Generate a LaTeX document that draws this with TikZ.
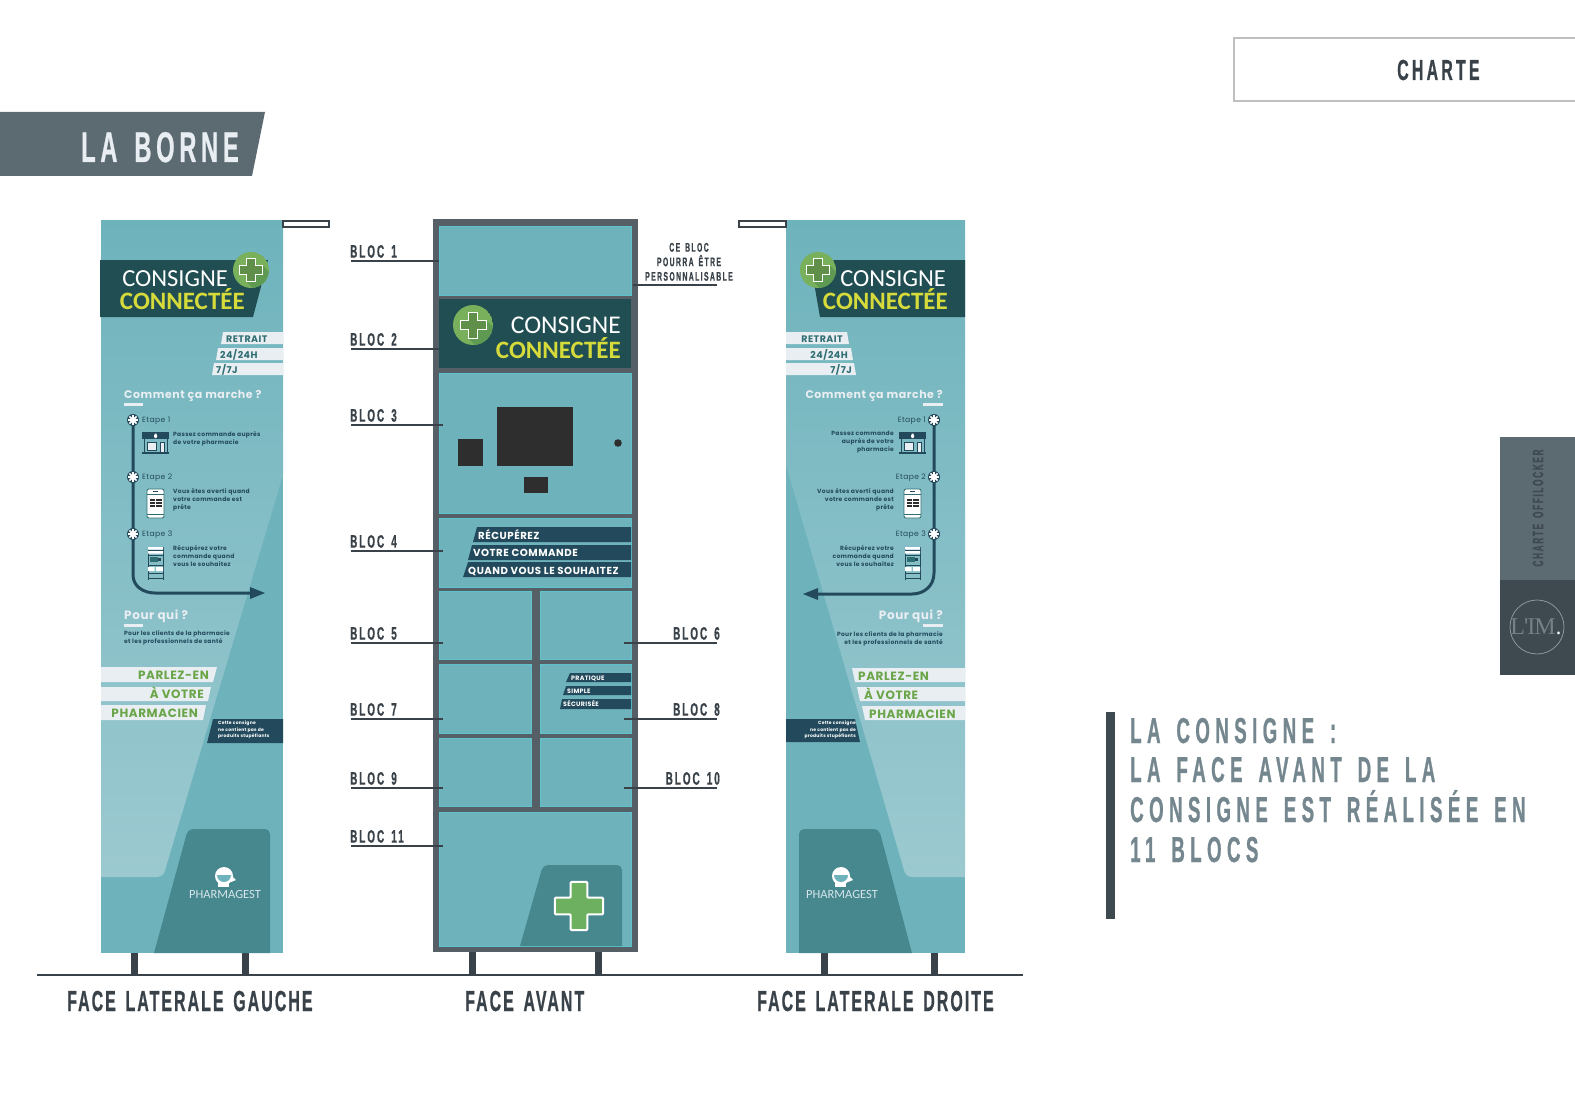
\documentclass[tikz,border=0pt]{standalone}
\usepackage{fontspec}
\newfontfamily\bebas[FakeStretch=0.55,LetterSpace=11,WordSpace=1.5,BoldFeatures={FakeBold=0.6}]{Liberation Sans}
\newfontfamily\bebastight[FakeStretch=0.55,LetterSpace=7,WordSpace=1.5,BoldFeatures={FakeBold=0.6}]{Liberation Sans}
\newfontfamily\bebaswide[FakeStretch=0.52,LetterSpace=15,WordSpace=1.5,BoldFeatures={FakeBold=0.6}]{Liberation Sans}
\newfontfamily\gothamish[LetterSpace=5]{Poppins}
\newfontfamily\logofont{Carlito}
\newfontfamily\limfont[LetterSpace=-4]{Liberation Serif}
\definecolor{panelteal}{HTML}{6EB3BC}
\definecolor{panellight}{HTML}{9CC9D0}
\definecolor{tileteal}{HTML}{47888F}
\definecolor{blocedge}{HTML}{5CC2CB}
\definecolor{framegrey}{HTML}{565F66}
\definecolor{inkdark}{HTML}{3A4249}
\definecolor{deepgreen}{HTML}{204E52}
\definecolor{navystrip}{HTML}{234A5C}
\definecolor{paleband}{HTML}{E8EEF1}
\definecolor{bandink}{HTML}{2F6E73}
\definecolor{greenink}{HTML}{6BA54A}
\definecolor{logogreen}{HTML}{78B05C}
\definecolor{logoshade}{HTML}{5E9A52}
\definecolor{plusfill}{HTML}{5F8F48}
\definecolor{crossgreen}{HTML}{6DB05F}
\definecolor{logoyellow}{HTML}{D6DB3B}
\definecolor{slate}{HTML}{5C6A72}
\definecolor{slatedark}{HTML}{3E4A50}
\definecolor{headline}{HTML}{74878F}
\definecolor{screenblack}{HTML}{2E2E2E}
\newcommand{\plusshape}{(-4.5,-13)--(4.5,-13)--(4.5,-4.5)--(13,-4.5)--(13,4.5)--(4.5,4.5)--(4.5,13)--(-4.5,13)--(-4.5,4.5)--(-13,4.5)--(-13,-4.5)--(-4.5,-4.5)--cycle}
\tikzset{
	bloc/.style={fill=panelteal,draw=blocedge,line width=.5pt},
	leader/.style={draw=inkdark,line width=1.5pt},
	bloclabel/.style={inner sep=0pt,text=inkdark,font=\bebas\bfseries\fontsize{18}{18}\selectfont},
	caption/.style={inner sep=0pt,text=inkdark,font=\bebastight\bfseries\fontsize{29}{29}\selectfont},
	headtext/.style={inner sep=0pt,anchor=base west,text=headline,font=\bebaswide\bfseries\fontsize{36}{36}\selectfont},
	logoa/.style={inner sep=0pt,anchor=base east,text=white,font=\logofont\fontsize{24.5}{24.5}\selectfont},
	logob/.style={inner sep=0pt,anchor=base east,text=logoyellow,font=\logofont\bfseries\fontsize{25}{25}\selectfont},
	stripetext/.style={inner sep=0pt,anchor=base west,text=white,font=\gothamish\bfseries\fontsize{10.2}{10.2}\selectfont},
	stripesmall/.style={inner sep=0pt,anchor=base west,text=white,font=\gothamish\bfseries\fontsize{6.3}{6.3}\selectfont},
	bandtext/.style={inner sep=0pt,text=bandink,font=\gothamish\bfseries\fontsize{9.5}{9.5}\selectfont},
	greentext/.style={inner sep=0pt,text=greenink,font=\gothamish\bfseries\fontsize{12}{12}\selectfont},
	titletext/.style={inner sep=0pt,text=paleband,font=\gothamish\bfseries\fontsize{11}{11}\selectfont},
	tinytext/.style={inner sep=0pt,text=navystrip,font=\gothamish\bfseries\fontsize{6}{8}\selectfont},
	steptext/.style={inner sep=0pt,text=navystrip,font=\gothamish\fontsize{7.6}{8}\selectfont},
	notetext/.style={inner sep=0pt,text=white,font=\gothamish\bfseries\fontsize{4.5}{6.5}\selectfont},
	route/.style={draw=navystrip,line width=3pt},
	pharmatext/.style={inner sep=0pt,text=paleband!85!panelteal,font=\logofont\fontsize{12.5}{12.5}\selectfont},
	logomark/.pic={
		\begin{scope}
			\clip (0,0) circle (20);
			\fill[logogreen] (0,0) circle (20);
			\fill[logoshade] (13,-5)--(33,15)--(15,33)--(-5,13)--cycle;
		\end{scope}
		\draw[white,fill=plusfill,line width=1pt] \plusshape;
	},
	stepmark/.pic={
		\fill[navystrip] (0,0) circle (6);
		\foreach \a in {0,45,...,315}
			\draw[white,line width=1.5pt] (0,0)--(\a:5);
		\fill[white] (0,0) circle (3);
	},
	shopicon/.pic={
		\fill[navystrip] (0,0) rectangle (27,7);
		\fill[white] (12,3) rectangle (15,5) (12.5,1.5) rectangle (14.5,6);
		\draw[navystrip,line width=.9pt] (2,7)--(2,20) (25,7)--(25,20);
		\draw[navystrip,line width=.9pt,fill=paleband] (5,10) rectangle (14,18);
		\draw[navystrip,line width=.9pt,fill=paleband] (18,10) rectangle (22,20);
		\fill[navystrip] (0,20) rectangle (27,22);
	},
	phoneicon/.pic={
		\draw[bandink,fill=white,line width=.8pt,rounded corners=2pt] (0,0) rectangle (17,29);
		\fill[navystrip] (6,2) rectangle (11,3.4);
		\foreach \r in {10,13,16}{
			\fill[screenblack] (2.5,\r) rectangle (8,\r+2);
			\fill[screenblack] (9,\r) rectangle (14.5,\r+2);
		}
		\draw[bandink,line width=.5pt] (0,5)--(17,5) (0,25)--(17,25);
	},
	lockericon/.pic={
		\draw[navystrip,line width=.9pt] (0,0)--(0,33) (15,0)--(15,33);
		\fill[white] (0,0) rectangle (15,2.5) (0,4) rectangle (15,6.5) (0,20) rectangle (6.5,24) (8,20) rectangle (15,24);
		\fill[navystrip] (0,2.5) rectangle (15,3.5);
		\fill[bandink] (2,10) rectangle (10,15);
		\fill[navystrip] (10,11) rectangle (13,14);
		\draw[navystrip,line width=.8pt] (0,8)--(15,8) (0,18)--(15,18) (0,26)--(15,26) (0,31)--(15,31);
	}
}
\begin{document}
\begin{tikzpicture}[x=1pt,y=-1pt,>=latex]
	\useasboundingbox (0,0) rectangle (1575,1113);
	\fill[white] (0,0) rectangle (1575,1113);

	% page furniture
	\fill[slate] (0,112)--(265,112)--(252,176)--(0,176)--cycle;
	\node[anchor=base west,inner sep=0pt,text=paleband,font=\bebas\bfseries\fontsize{43}{43}\selectfont] (sectitle) at (81,162) {LA BORNE};
	\draw[draw=black!25,line width=1.5pt] (1575,38)--(1234,38)--(1234,101)--(1575,101);
	\node[anchor=base west,inner sep=0pt,text=inkdark,font=\bebas\bfseries\fontsize{29}{29}\selectfont] (chartebox) at (1397,80) {CHARTE};
	\fill[slate] (1500,437) rectangle (1575,580);
	\fill[slatedark] (1500,580) rectangle (1575,675);
	\node[rotate=90,inner sep=0pt,text=slatedark,font=\bebas\bfseries\fontsize{15}{15}\selectfont] (tabtext) at (1538,508) {CHARTE OFFILOCKER};
	\draw[draw=slate!70!white,line width=.8pt] (1537,627) circle (27);
	\node[inner sep=0pt,text=slate!85!white,font=\limfont\fontsize{24}{24}\selectfont] (limtext) at (1536,627) {L'IM\textcolor{paleband}{.}};

	\fill[slatedark] (1106,712) rectangle (1115,919);
	\node[headtext] (headone) at (1130,743) {LA CONSIGNE :};
	\node[headtext] (headtwo) at (1130,782) {LA FACE AVANT DE LA};
	\node[headtext] (headthree) at (1130,822) {CONSIGNE EST RÉALISÉE EN};
	\node[headtext] (headfour) at (1130,862) {11 BLOCS};

	% ground and legs
	\foreach \lx in {134,245,472,598,824,934}
		\fill[inkdark] (\lx-3.5,945)rectangle(\lx+3.5,975);
	\draw[draw=inkdark,line width=2pt] (37,975)--(1023,975);
	\node[caption,anchor=base west] (capleft) at (67,1011) {FACE LATERALE GAUCHE};
	\node[caption,anchor=base west] (capfront) at (465,1011) {FACE AVANT};
	\node[caption,anchor=base west] (capright) at (757,1011) {FACE LATERALE DROITE};

	% left side
	\fill[panelteal] (101,220) rectangle (283,953);
	\shade[top color=panelteal,bottom color=panellight] (101,220)--(283,220)--(283,475) [rounded corners=6pt] --(163,877) [sharp corners] --(101,877)--cycle;
	\fill[tileteal] (154,953) [rounded corners=5pt] --(188,829)--(270,829) [sharp corners] --(270,953)--cycle;
	\draw[draw=inkdark,line width=1.5pt,fill=white] (283,221) rectangle (329,227);
	\fill[deepgreen] (100,260)--(268,260)--(253,317)--(100,317)--cycle;
	\pic[scale=.9] at (251,270) {logomark};
	\node[logoa] (lconsigne) at (228,286) {CONSIGNE};
	\node[logob] (lconnect) at (245,309) {CONNECTÉE};
	\fill[paleband] (223,332)--(283,332)--(283,344)--(221,344)--cycle;
	\fill[paleband] (218,348)--(283,348)--(283,360)--(216,360)--cycle;
	\fill[paleband] (214,363)--(283,363)--(283,375)--(212,375)--cycle;
	\node[bandtext,anchor=base west] (lretrait) at (226,342) {RETRAIT};
	\node[bandtext,anchor=base west] (lhours) at (220,358) {24/24H};
	\node[bandtext,anchor=base west] (ldays) at (216,373) {7/7J};
	\node[titletext,anchor=base west] (lcomment) at (124,398) {Comment ça marche ?};
	\fill[paleband] (124,403) rectangle (143,406);
	\coordinate (lstepa) at (133,420);
	\coordinate (lstepb) at (133,477);
	\coordinate (lstepc) at (133,534);
	\coordinate (lbend) at (155,593);
	\coordinate (ltip) at (258,593);
	\draw[route] (lstepa)--(lstepb)--(lstepc)--(133,575) .. controls (133,586) and (143,593) .. (lbend)--(ltip);
	\fill[navystrip] (250,587)--(265,593)--(250,599)--cycle;
	\pic at (lstepa) {stepmark};
	\pic at (lstepb) {stepmark};
	\pic at (lstepc) {stepmark};
	\node[steptext,anchor=west] (letapea) at (142,421) {Etape 1};
	\node[steptext,anchor=west] (letapeb) at (142,478) {Etape 2};
	\node[steptext,anchor=west] (letapec) at (142,535) {Etape 3};
	\pic at (142,432) {shopicon};
	\pic at (147,489) {phoneicon};
	\pic at (148,547) {lockericon};
	\node[tinytext,anchor=north west,align=left] (ltexta) at (173,431) {Passez commande auprès\\de votre pharmacie};
	\node[tinytext,anchor=north west,align=left] (ltextb) at (173,488) {Vous êtes averti quand\\votre commande est\\prête};
	\node[tinytext,anchor=north west,align=left] (ltextc) at (173,545) {Récupérez votre\\commande quand\\vous le souhaitez};
	\node[titletext,anchor=base west,font=\gothamish\bfseries\fontsize{12}{12}\selectfont] (lpour) at (124,619) {Pour qui ?};
	\fill[paleband] (124,624) rectangle (143,627);
	\node[tinytext,anchor=north west,align=left] (lclients) at (124,630) {Pour les clients de la pharmacie\\et les professionnels de santé};
	\fill[paleband] (101,667)--(217,667)--(213,682)--(101,682)--cycle;
	\fill[paleband] (101,687)--(211,687)--(208,701)--(101,701)--cycle;
	\fill[paleband] (101,705)--(206,705)--(203,720)--(101,720)--cycle;
	\node[greentext,anchor=base east] (lparlez) at (209,679) {PARLEZ-EN};
	\node[greentext,anchor=base east] (lvotre) at (204,698) {À VOTRE};
	\node[greentext,anchor=base east] (lpharma) at (198,717) {PHARMACIEN};
	\fill[navystrip] (213,719)--(283,719)--(283,743)--(207,743)--cycle;
	\node[notetext,anchor=north west,align=left] (lnote) at (218,721) {Cette consigne\\ne contient pas de\\produits stupéfiants};
	\fill[white] (224,876) circle (9);
	\fill[white] (218,880) rectangle (229,887);
	\fill[white] (231,875)--(236,880)--(231,882)--cycle;
	\fill[panelteal] (217,875) arc[start angle=180,end angle=0,radius=7]--cycle;
	\node[pharmatext] (lpharmagest) at (225,894) {PHARMAGEST};

	% front
	\fill[framegrey] (433,219) rectangle (638,952);
	\path[bloc] (439,226) rectangle (631,295);
	\fill[deepgreen] (439,299) rectangle (631,368);
	\path[bloc] (439,373) rectangle (631,513);
	\path[bloc] (439,518) rectangle (631,587);
	\path[bloc] (439,591) rectangle (531,659);
	\path[bloc] (540,591) rectangle (631,659);
	\path[bloc] (439,664) rectangle (531,733);
	\path[bloc] (540,664) rectangle (631,733);
	\path[bloc] (439,738) rectangle (531,806);
	\path[bloc] (540,738) rectangle (631,806);
	\path[bloc] (439,812) rectangle (631,946);
	\pic at (473,325) {logomark};
	\node[logoa,font=\logofont\fontsize{25.5}{25.5}\selectfont] (fconsigne) at (621,333) {CONSIGNE};
	\node[logob] (fconnect) at (621,358) {CONNECTÉE};
	\fill[screenblack] (497,407) rectangle (573,466);
	\fill[screenblack] (458,439) rectangle (483,466);
	\fill[screenblack] (524,477) rectangle (548,493);
	\fill[screenblack] (618,443) circle (3.8);
	\fill[navystrip] (477,527)--(631,527)--(631,542)--(473,542)--cycle;
	\fill[navystrip] (472,545)--(631,545)--(631,560)--(468,560)--cycle;
	\fill[navystrip] (468,562)--(631,562)--(631,577)--(463,577)--cycle;
	\node[stripetext] (frecup) at (478,539) {RÉCUPÉREZ};
	\node[stripetext] (fvotre) at (473,556) {VOTRE COMMANDE};
	\node[stripetext] (fquand) at (468,574) {QUAND VOUS LE SOUHAITEZ};
	\fill[navystrip] (570,673)--(631,673)--(631,682)--(566,682)--cycle;
	\fill[navystrip] (566,686)--(631,686)--(631,695)--(563,695)--cycle;
	\fill[navystrip] (562,699)--(631,699)--(631,709)--(560,709)--cycle;
	\node[stripesmall] (fprat) at (571,680) {PRATIQUE};
	\node[stripesmall] (fsimp) at (567,693) {SIMPLE};
	\node[stripesmall] (fsecu) at (563,706) {SÉCURISÉE};
	\fill[tileteal] (520,946) [rounded corners=5pt] --(543,865)--(622,865) [sharp corners] --(622,946)--cycle;
	\draw[white,fill=crossgreen,line width=2pt,rounded corners=1pt,shift={(579,906)},scale=1.85] \plusshape;

	% labels on the left of the front
	\foreach \nm/\txt/\ly/\ex in {1/BLOC 1/261/439,2/BLOC 2/349/439,3/BLOC 3/425/443,4/BLOC 4/551/443,5/BLOC 5/643/443,7/BLOC 7/719/443,9/BLOC 9/788/443,11/BLOC 11/846/443}{
		\node[bloclabel,anchor=south west] (lab\nm) at (350,\ly-3) {\txt};
		\coordinate (end\nm) at (\ex,\ly);
		\coordinate (start\nm) at (351,\ly);
		\draw[leader] (start\nm)--(end\nm);
	}
	% labels on the right of the front
	\foreach \nm/\txt/\ly in {6/BLOC 6/643,8/BLOC 8/719,10/BLOC 10/788}{
		\node[bloclabel,anchor=south east] (lab\nm) at (720,\ly-3) {\txt};
		\coordinate (end\nm) at (624,\ly);
		\coordinate (start\nm) at (717,\ly);
		\draw[leader] (start\nm)--(end\nm);
	}
	\node[bloclabel,anchor=south,align=center,font=\bebas\bfseries\fontsize{12.5}{14.5}\selectfont] (labperso) at (689,281) {CE BLOC\\POURRA ÊTRE\\PERSONNALISABLE};
	\coordinate (startperso) at (717,285);
	\coordinate (endperso) at (633,285);
	\draw[leader] (startperso)--(endperso);

	% right side
	\fill[panelteal] (786,220) rectangle (965,953);
	\shade[top color=panelteal,bottom color=panellight] (965,220)--(786,220)--(786,465) [rounded corners=6pt] --(906,877) [sharp corners] --(965,877)--cycle;
	\fill[tileteal] (912,953) [rounded corners=5pt] --(879,829)--(799,829) [sharp corners] --(799,953)--cycle;
	\draw[draw=inkdark,line width=1.5pt,fill=white] (739,221) rectangle (786,227);
	\fill[deepgreen] (810,260)--(965,260)--(965,317)--(820,317)--cycle;
	\pic[scale=.9] at (818,270) {logomark};
	\node[logoa] (rconsigne) at (946,286) {CONSIGNE};
	\node[logob] (rconnect) at (948,309) {CONNECTÉE};
	\fill[paleband] (786,332)--(847,332)--(849,344)--(786,344)--cycle;
	\fill[paleband] (786,348)--(851,348)--(853,360)--(786,360)--cycle;
	\fill[paleband] (786,363)--(854,363)--(856,375)--(786,375)--cycle;
	\node[bandtext,anchor=base east] (rretrait) at (843,342) {RETRAIT};
	\node[bandtext,anchor=base east] (rhours) at (848,358) {24/24H};
	\node[bandtext,anchor=base east] (rdays) at (852,373) {7/7J};
	\node[titletext,anchor=base east] (rcomment) at (943,398) {Comment ça marche ?};
	\fill[paleband] (923,403) rectangle (943,406);
	\coordinate (rstepa) at (934,420);
	\coordinate (rstepb) at (934,477);
	\coordinate (rstepc) at (934,534);
	\coordinate (rbend) at (912,594);
	\coordinate (rtip) at (810,594);
	\draw[route] (rstepa)--(rstepb)--(rstepc)--(934,573) .. controls (934,586) and (924,594) .. (rbend)--(rtip);
	\fill[navystrip] (818,588)--(803,594)--(818,600)--cycle;
	\pic at (rstepa) {stepmark};
	\pic at (rstepb) {stepmark};
	\pic at (rstepc) {stepmark};
	\node[steptext,anchor=east] (retapea) at (926,421) {Etape 1};
	\node[steptext,anchor=east] (retapeb) at (926,478) {Etape 2};
	\node[steptext,anchor=east] (retapec) at (926,535) {Etape 3};
	\pic at (899,432) {shopicon};
	\pic at (904,489) {phoneicon};
	\pic at (905,547) {lockericon};
	\node[tinytext,anchor=north east,align=right] (rtexta) at (894,431) {Passez commande\\auprès de votre\\pharmacie};
	\node[tinytext,anchor=north east,align=right] (rtextb) at (894,488) {Vous êtes averti quand\\votre commande est\\prête};
	\node[tinytext,anchor=north east,align=right] (rtextc) at (894,545) {Récupérez votre\\commande quand\\vous le souhaitez};
	\node[titletext,anchor=base east,font=\gothamish\bfseries\fontsize{12}{12}\selectfont] (rpour) at (943,619) {Pour qui ?};
	\fill[paleband] (923,624) rectangle (943,627);
	\node[tinytext,anchor=north east,align=right] (rclients) at (943,631) {Pour les clients de la pharmacie\\et les professionnels de santé};
	\fill[paleband] (852,668)--(965,668)--(965,682)--(855,682)--cycle;
	\fill[paleband] (857,687)--(965,687)--(965,701)--(860,701)--cycle;
	\fill[paleband] (862,706)--(965,706)--(965,720)--(865,720)--cycle;
	\node[greentext,anchor=base west] (rparlez) at (858,680) {PARLEZ-EN};
	\node[greentext,anchor=base west] (rvotre) at (864,699) {À VOTRE};
	\node[greentext,anchor=base west] (rpharma) at (869,718) {PHARMACIEN};
	\fill[navystrip] (786,719)--(855,719)--(860,742)--(786,742)--cycle;
	\node[notetext,anchor=north east,align=right] (rnote) at (856,721) {Cette consigne\\ne contient pas de\\produits stupéfiants};
	\fill[white] (841,876) circle (9);
	\fill[white] (835,880) rectangle (846,887);
	\fill[white] (848,875)--(853,880)--(848,882)--cycle;
	\fill[panelteal] (834,875) arc[start angle=180,end angle=0,radius=7]--cycle;
	\node[pharmatext] (rpharmagest) at (842,894) {PHARMAGEST};
\end{tikzpicture}
\end{document}
